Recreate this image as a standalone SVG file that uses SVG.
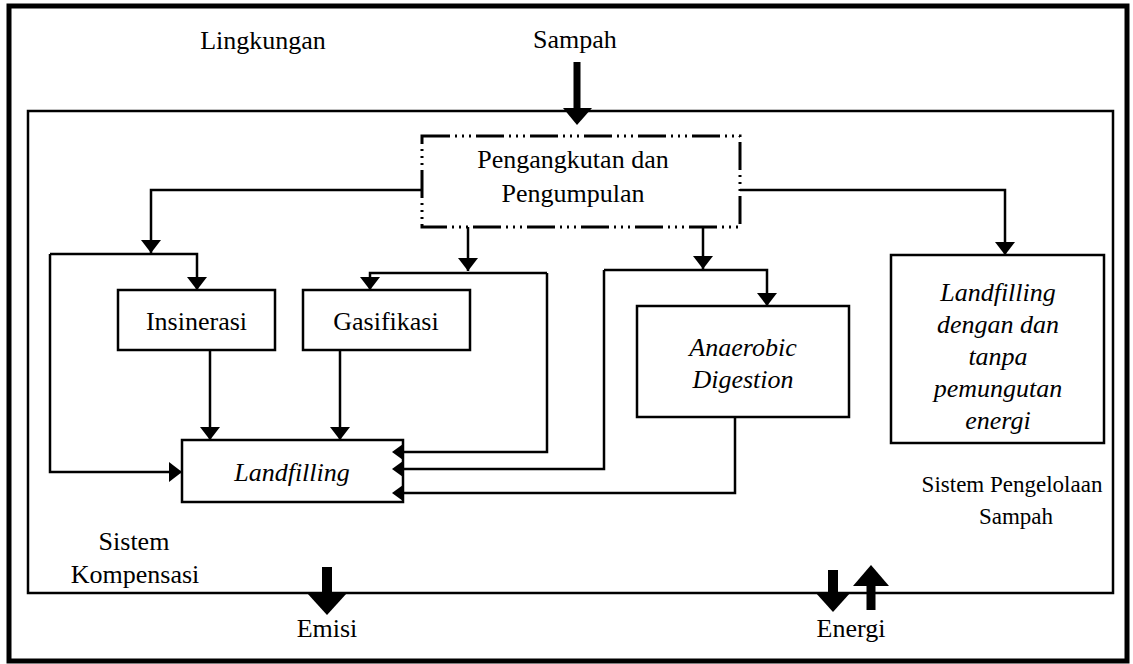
<svg xmlns="http://www.w3.org/2000/svg" width="1133" height="664" viewBox="0 0 1133 664">
<defs>
<style>
.t{font-family:"Liberation Serif","Times New Roman",serif;font-size:26px;fill:#000;text-anchor:middle}
.ti{font-style:italic}
.sm{font-size:23px}
.box{fill:#fff;stroke:#000;stroke-width:2.5}
.ln{fill:none;stroke:#000;stroke-width:2.5}
.arr{marker-end:url(#ah)}
.big{fill:#000}
</style>
<marker id="ah" markerUnits="userSpaceOnUse" markerWidth="13" markerHeight="20" viewBox="0 0 13 20" refX="13" refY="10" orient="auto">
<path d="M0,0 L13,10 L0,20 z" fill="#000"/>
</marker>
</defs>
<rect x="0" y="0" width="1133" height="664" fill="#fff"/>
<g id="lingkungan">
<rect x="9" y="6" width="1118" height="655" fill="none" stroke="#000" stroke-width="5"/>
<text class="t" x="263" y="49">Lingkungan</text>
</g>
<g id="sistem">
<rect x="28" y="111" width="1085" height="482" fill="none" stroke="#000" stroke-width="2.5"/>
<text class="t sm" x="1012" y="492">Sistem Pengelolaan</text>
<text class="t sm" x="1016" y="524">Sampah</text>
<text class="t" x="134" y="550">Sistem</text>
<text class="t" x="135" y="583">Kompensasi</text>
</g>
<g id="connectors">
<path class="ln arr" d="M422,190 H151 V253"/>
<path class="ln arr" d="M50,254 H197 V290"/>
<path class="ln arr" d="M50,254 V472 H182"/>
<path class="ln arr" d="M468,227 V271"/>
<path class="ln arr" d="M547,273 H370 V290"/>
<path class="ln" d="M547,273 V452 H403"/>
<path class="ln arr" d="M703,227 V269"/>
<path class="ln arr" d="M604,270 H767 V306"/>
<path class="ln" d="M604,270 V469 H403"/>
<path class="ln" d="M735,417 V493 H403"/>
<path class="ln arr" d="M740,190 H1005 V255"/>
<path class="ln arr" d="M210,350 V440"/>
<path class="ln arr" d="M340,350 V440"/>
</g>
<g id="pengangkutan">
<rect x="422" y="136" width="318" height="91" fill="#fff" stroke="#000" stroke-width="3" stroke-dasharray="28 5 2 5 2 5 2 5"/>
<text class="t" x="573" y="168">Pengangkutan dan</text>
<text class="t" x="573" y="202">Pengumpulan</text>
</g>
<g id="insinerasi">
<rect class="box" x="118" y="290" width="157" height="60"/>
<text class="t" x="196.5" y="330">Insinerasi</text>
</g>
<g id="gasifikasi">
<rect class="box" x="303" y="290" width="167" height="60"/>
<text class="t" x="386" y="330">Gasifikasi</text>
</g>
<g id="anaerobic">
<rect class="box" x="637" y="306" width="212" height="111"/>
<text class="t ti" x="743" y="356">Anaerobic</text>
<text class="t ti" x="743" y="388">Digestion</text>
</g>
<g id="landfilling">
<rect class="box" x="182" y="440" width="221" height="62"/>
<text class="t ti" x="292" y="481">Landfilling</text>
<polygon class="big" points="403,444 392,452 403,460"/>
<polygon class="big" points="403,461 392,469 403,477"/>
<polygon class="big" points="403,485 392,493 403,501"/>
</g>
<g id="landfilling-energi">
<rect class="box" x="891" y="255" width="213" height="188"/>
<text class="t ti" x="998" y="301">Landfilling</text>
<text class="t ti" x="998" y="333">dengan dan</text>
<text class="t ti" x="998" y="365">tanpa</text>
<text class="t ti" x="998" y="397">pemungutan</text>
<text class="t ti" x="998" y="429">energi</text>
</g>
<g id="sampah">
<text class="t" x="575" y="48">Sampah</text>
<rect class="big" x="573.5" y="62" width="7" height="47"/>
<polygon class="big" points="563,108 592,108 577,125"/>
</g>
<g id="emisi">
<rect class="big" x="322" y="567" width="10" height="27"/>
<polygon class="big" points="307,593 347,593 327,615"/>
<text class="t" x="327" y="637">Emisi</text>
</g>
<g id="energi">
<rect class="big" x="828" y="570" width="10" height="23"/>
<polygon class="big" points="815,592 851,592 833,612"/>
<rect class="big" x="866.5" y="585" width="9" height="25"/>
<polygon class="big" points="853,586 889,586 871,565"/>
<text class="t" x="851" y="637">Energi</text>
</g>
</svg>
